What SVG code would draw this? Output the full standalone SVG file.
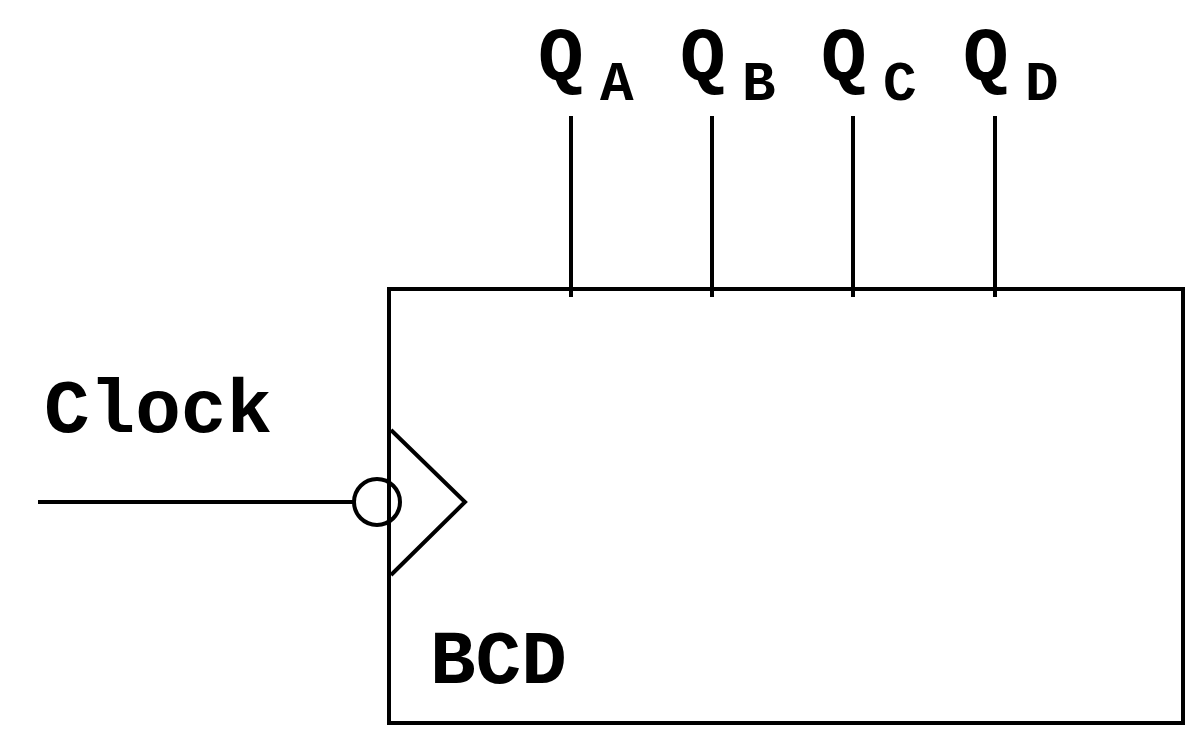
<svg xmlns="http://www.w3.org/2000/svg" width="1200" height="735" viewBox="0 0 1200 735">
<style>
.l{stroke:#000;stroke-width:4;fill:none}
.t{font-family:"Liberation Mono",monospace;font-weight:bold;fill:#000}
.q{font-size:76px}.s{font-size:56px}
</style>
<rect width="1200" height="735" fill="#fff"/>
<g id="counter">
<rect class="l" x="389" y="289" width="794" height="434"/>
<polyline class="l" points="391,430 465,502 391,575"/>
<circle class="l" cx="377" cy="502" r="23" fill="#fff"/>
<text class="t q" x="430" y="683">BCD</text>
</g>
<g id="connectors">
<line class="l" x1="38" y1="502" x2="354" y2="502"/>
<line class="l" x1="571" y1="116" x2="571" y2="297"/>
<line class="l" x1="712" y1="116" x2="712" y2="297"/>
<line class="l" x1="853" y1="116" x2="853" y2="297"/>
<line class="l" x1="995" y1="116" x2="995" y2="297"/>
</g>
<g id="labels">
<text class="t q" x="44" y="432">Clock</text>
<text class="t q" x="538" y="80">Q</text><text class="t s" x="600" y="100">A</text>
<text class="t q" x="680" y="80">Q</text><text class="t s" x="742" y="100">B</text>
<text class="t q" x="821" y="80">Q</text><text class="t s" x="883" y="100">C</text>
<text class="t q" x="963" y="80">Q</text><text class="t s" x="1025" y="100">D</text>
</g>
</svg>
